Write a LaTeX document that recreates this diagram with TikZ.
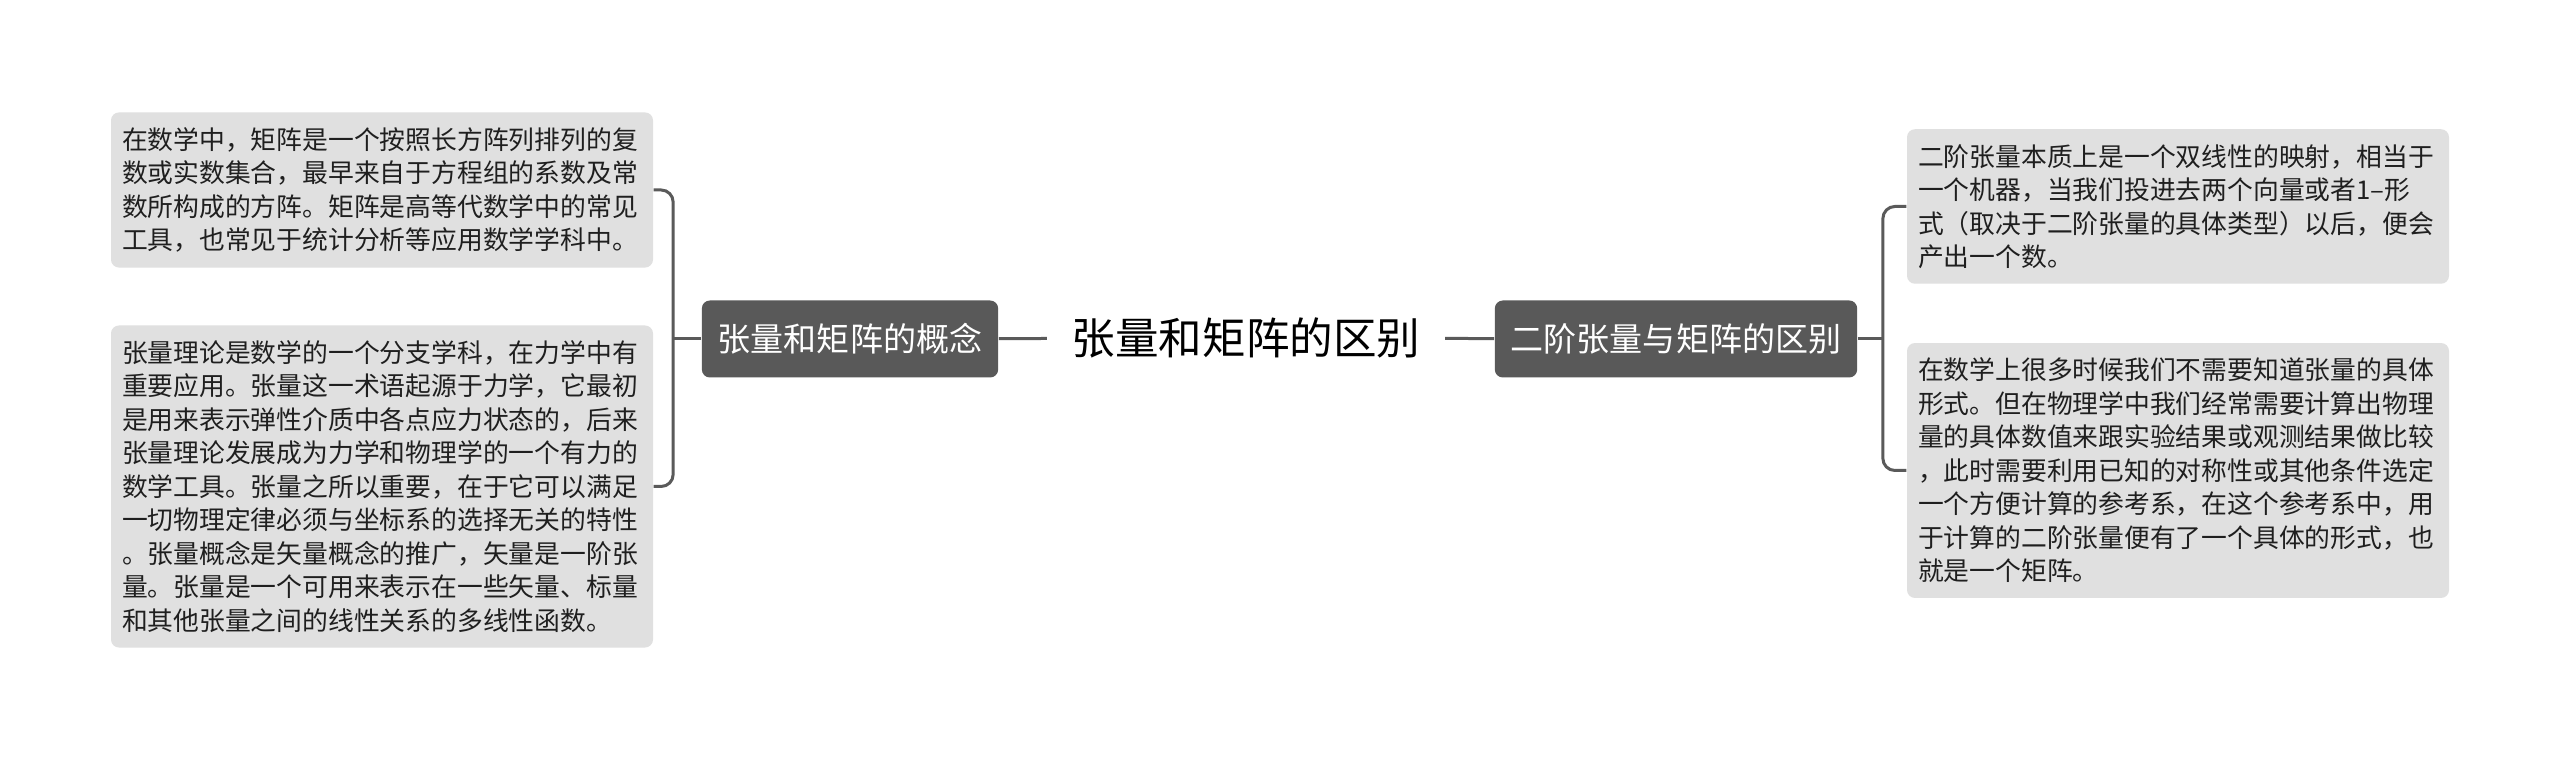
\documentclass[tikz,border=0pt]{standalone}
\usepackage{fontspec}
\setmainfont{Noto Sans CJK SC}
\usetikzlibrary{positioning}
\definecolor{leafgray}{HTML}{E0E0E0}
\definecolor{topicgray}{HTML}{595959}
\definecolor{linegray}{HTML}{5A5A5A}
\tikzset{
  leaf/.style={fill=leafgray, rounded corners=0.08cm, text width=5.2cm, align=left,
    inner xsep=0.11cm, inner ysep=0.15cm, text=black!88,
    font=\fontsize{7.34}{9.53}\selectfont},
  topic/.style={fill=topicgray, rounded corners=0.08cm, text=white, inner xsep=0.16cm,
    minimum height=0.77cm, font=\fontsize{9.4}{11}\selectfont},
  link/.style={draw=linegray, line width=0.03cm, rounded corners=0.12cm},
}
\begin{document}
\begin{tikzpicture}
\fill[white] (0,0) rectangle (25.6,7.6);
\useasboundingbox (0,0) rectangle (25.6,7.6);

\node[font=\fontsize{12.4}{14}\selectfont, inner xsep=0.24cm] (root) at (12.46,4.22) {张量和矩阵的区别};
\node[topic] (concept) at (8.50,4.21) {张量和矩阵的概念};
\node[topic] (second) at (16.76,4.21) {二阶张量与矩阵的区别};

\node[leaf] (matrix) at (3.82,5.70) {在数学中，矩阵是一个按照长方阵列排列的复\\数或实数集合，最早来自于方程组的系数及常\\数所构成的方阵。矩阵是高等代数学中的常见\\工具，也常见于统计分析等应用数学学科中。};
\node[leaf] (tensor) at (3.82,2.735) {张量理论是数学的一个分支学科，在力学中有\\重要应用。张量这一术语起源于力学，它最初\\是用来表示弹性介质中各点应力状态的，后来\\张量理论发展成为力学和物理学的一个有力的\\数学工具。张量之所以重要，在于它可以满足\\一切物理定律必须与坐标系的选择无关的特性\\。张量概念是矢量概念的推广，矢量是一阶张\\量。张量是一个可用来表示在一些矢量、标量\\和其他张量之间的线性关系的多线性函数。};
\node[leaf] (machine) at (21.78,5.535) {二阶张量本质上是一个双线性的映射，相当于\\一个机器，当我们投进去两个向量或者1–形\\式（取决于二阶张量的具体类型）以后，便会\\产出一个数。};
\node[leaf] (practice) at (21.78,2.895) {在数学上很多时候我们不需要知道张量的具体\\形式。但在物理学中我们经常需要计算出物理\\量的具体数值来跟实验结果或观测结果做比较\\，此时需要利用已知的对称性或其他条件选定\\一个方便计算的参考系，在这个参考系中，用\\于计算的二阶张量便有了一个具体的形式，也\\就是一个矩阵。};

\coordinate[left=0.28cm of concept.west] (lfork);
\coordinate[right=0.25cm of second.east] (rfork);

\draw[link] (root) -- (concept);
\draw[link] (root) -- (second);
\draw[link] (concept.west) -- (lfork);
\draw[link] (matrix.east) -| (lfork) |- (tensor.east);
\draw[link] (second.east) -- (rfork);
\draw[link] (machine.west) -| (rfork) |- (practice.west);
\end{tikzpicture}
\end{document}
